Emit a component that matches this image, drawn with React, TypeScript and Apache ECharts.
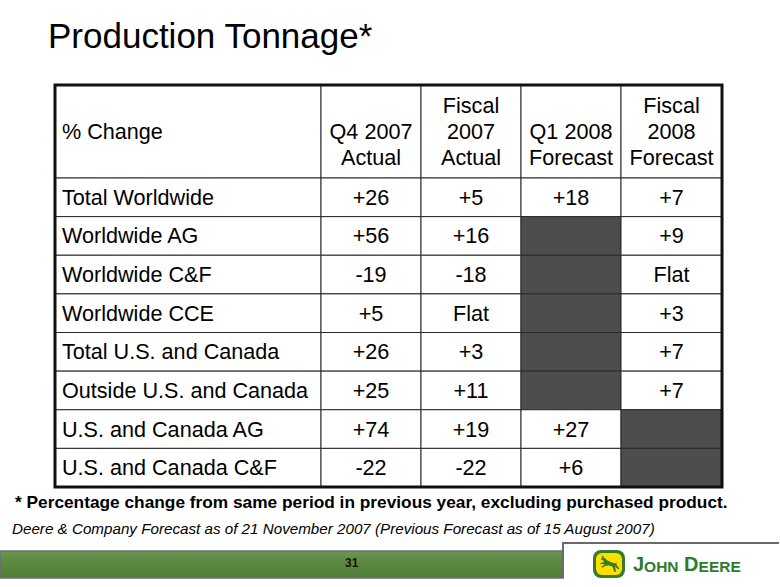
import React, { useEffect, useRef } from "react";
import * as echarts from "echarts";

// ---- data ----
const headers = ["% Change", "Q4 2007\nActual", "Fiscal\n2007\nActual", "Q1 2008\nForecast", "Fiscal\n2008\nForecast"];
const categories = [
  "Total Worldwide",
  "Worldwide AG",
  "Worldwide C&F",
  "Worldwide CCE",
  "Total U.S. and Canada",
  "Outside U.S. and Canada",
  "U.S. and Canada AG",
  "U.S. and Canada C&F",
];
const q4_2007_actual = ["+26", "+56", "-19", "+5", "+26", "+25", "+74", "-22"];
const fiscal_2007_actual = ["+5", "+16", "-18", "Flat", "+3", "+11", "+19", "-22"];
// null = no forecast given (shaded cell)
const q1_2008_forecast: (string | null)[] = ["+18", null, null, null, null, null, "+27", "+6"];
const fiscal_2008_forecast: (string | null)[] = ["+7", "+9", "Flat", "+3", "+7", "+7", null, null];

const titleText = "Production Tonnage*";
const footnoteText = "* Percentage change from same period in previous year, excluding purchased product.";
const forecastNote = "Deere & Company Forecast as of 21 November 2007 (Previous Forecast as of 15 August 2007)";
const pageNumber = "31";

// ---- layout (table units) ----
const COL_EDGES = [0, 266, 366, 466, 566, 667];
const TABLE_H = 402;
const HEADER_H = 93;
const ROW_H = (TABLE_H - HEADER_H) / categories.length;
const FONT = "'Liberation Sans', Arial, sans-serif";

type Cell = { col: number; row: number; text: string | null };

const columns = [categories, q4_2007_actual, fiscal_2007_actual, q1_2008_forecast, fiscal_2008_forecast];
const cells: Cell[] = [];
headers.forEach((h, c) => cells.push({ col: c, row: 0, text: h }));
categories.forEach((_, r) => {
  columns.forEach((arr, c) => cells.push({ col: c, row: r + 1, text: arr[r] }));
});

export default function App() {
  const ref = useRef<HTMLDivElement>(null);
  useEffect(() => {
    if (!ref.current) return;
    const chart = echarts.init(ref.current, null, { renderer: "svg" });

    const deerPoints = [
      [14, 8], [22, 18], [25, 9], [28, 20], [33, 24], [42, 33], [60, 42], [74, 48], [83, 43], [81, 53],
      [93, 70], [89, 75], [75, 61], [79, 84], [72, 86], [64, 61], [50, 57], [35, 58], [21, 67], [18, 62],
      [31, 52], [25, 49], [14, 51], [14, 46], [29, 41], [28, 35], [19, 31], [16, 26], [23, 23],
    ];

    const option: any = {
      animation: false,
      backgroundColor: "#ffffff",
      grid: { left: 55, top: 85, width: 667, height: TABLE_H },
      xAxis: { type: "value", min: 0, max: COL_EDGES[COL_EDGES.length - 1], show: false },
      yAxis: { type: "value", min: 0, max: TABLE_H, inverse: true, show: false },
      series: [
        {
          type: "custom",
          coordinateSystem: "cartesian2d",
          silent: true,
          data: cells.map((c) => [c.col, c.row]),
          renderItem: (params: any, api: any) => {
            const cell = cells[params.dataIndex];
            const xl = COL_EDGES[cell.col];
            const xr = COL_EDGES[cell.col + 1];
            const yt = cell.row === 0 ? 0 : HEADER_H + (cell.row - 1) * ROW_H;
            const yb = cell.row === 0 ? HEADER_H : yt + ROW_H;
            const p0 = api.coord([xl, yt]);
            const p1 = api.coord([xr, yb]);
            const x = Math.min(p0[0], p1[0]);
            const y = Math.min(p0[1], p1[1]);
            const w = Math.abs(p1[0] - p0[0]);
            const h = Math.abs(p1[1] - p0[1]);
            const shaded = cell.text === null;
            const children: any[] = [
              {
                type: "rect",
                shape: { x, y, width: w, height: h },
                style: { fill: shaded ? "#4d4d4d" : "#ffffff", stroke: "#2a2a2a", lineWidth: 1 },
              },
            ];
            if (!shaded) {
              let tx = x + w / 2;
              let ty = y + h / 2;
              let align = "center";
              let vAlign = "middle";
              if (cell.col === 0) {
                align = "left";
                tx = x + 7;
              }
              if (cell.row === 0 && cell.col > 0) {
                vAlign = "bottom";
                ty = y + h - 8;
              }
              children.push({
                type: "text",
                x: tx,
                y: ty,
                style: {
                  text: cell.text,
                  fill: "#000000",
                  fontSize: 21.6,
                  fontFamily: FONT,
                  lineHeight: 26,
                  align,
                  verticalAlign: vAlign,
                },
              });
            }
            return { type: "group", children };
          },
        },
        {
          type: "custom",
          coordinateSystem: "cartesian2d",
          silent: true,
          data: [[0, 0]],
          renderItem: (_p: any, api: any) => {
            const a = api.coord([0, 0]);
            const b = api.coord([COL_EDGES[COL_EDGES.length - 1], TABLE_H]);
            return {
              type: "rect",
              shape: { x: a[0], y: Math.min(a[1], b[1]), width: b[0] - a[0], height: Math.abs(b[1] - a[1]) },
              style: { fill: "none", stroke: "#111111", lineWidth: 3 },
            };
          },
        },
      ],
      graphic: [
        {
          type: "text",
          left: 48,
          top: 18,
          style: { text: titleText, fill: "#000", fontSize: 35, fontFamily: FONT },
        },
        {
          type: "text",
          left: 15,
          top: 493,
          style: { text: footnoteText, fill: "#000", fontSize: 17.3, fontWeight: "bold", fontFamily: FONT },
        },
        {
          type: "text",
          left: 12,
          top: 521,
          style: { text: forecastNote, fill: "#000", fontSize: 15.2, fontStyle: "italic", fontFamily: FONT },
        },
        // green footer bar
        {
          type: "rect",
          shape: { x: 0, y: 551, width: 563, height: 27 },
          style: {
            fill: new echarts.graphic.LinearGradient(0, 0, 0, 1, [
              { offset: 0, color: "#6a9650" },
              { offset: 0.5, color: "#5a8840" },
              { offset: 1, color: "#4f7c37" },
            ]),
            stroke: "#6e6e6e",
            lineWidth: 1.5,
          },
        },
        {
          type: "polyline",
          shape: { points: [[563, 578], [563, 543], [779, 543]] },
          style: { stroke: "#6a6a6a", lineWidth: 2, fill: "none" },
        },
        {
          type: "text",
          left: 345,
          top: 557,
          style: { text: pageNumber, fill: "#111", fontSize: 12, fontWeight: "bold", fontFamily: FONT },
        },
        // logo
        {
          type: "group",
          x: 593,
          y: 550,
          children: [
            { type: "rect", shape: { x: 0, y: 0, width: 32, height: 28, r: 8 }, style: { fill: "#367C2B" } },
            { type: "rect", shape: { x: 3, y: 3, width: 26, height: 22, r: 6 }, style: { fill: "#FFDE00" } },
            {
              type: "polygon",
              x: 4,
              y: 3,
              scaleX: 0.24,
              scaleY: 0.22,
              shape: { points: deerPoints },
              style: { fill: "#367C2B" },
            },
          ],
        },
        {
          type: "text",
          left: 633,
          top: 554,
          style: {
            text: "{b|J}{s|OHN}{b| D}{s|EERE}",
            fill: "#367C2B",
            fontFamily: FONT,
            rich: {
              b: { fontSize: 20, fontWeight: "bold", fill: "#2f7a2a", fontFamily: FONT, verticalAlign: "bottom" },
              s: { fontSize: 15.5, fontWeight: "bold", fill: "#2f7a2a", fontFamily: FONT, verticalAlign: "bottom" },
            },
          },
        },
      ],
    };
    chart.setOption(option);
    return () => chart.dispose();
  }, []);
  return <div ref={ref} style={{ position: "absolute", left: 0, top: 0, width: 780, height: 587 }} />;
}
